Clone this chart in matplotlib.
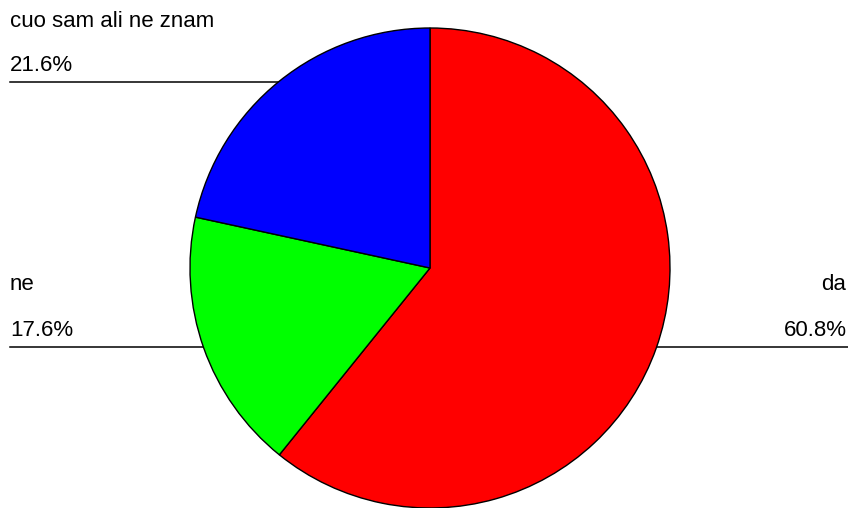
import numpy as np
import matplotlib.pyplot as plt

plt.rcParams['font.family'] = ['Liberation Sans', 'DejaVu Sans']

labels = ['da', 'ne', 'cuo sam ali ne znam']
values = [60.8, 17.6, 21.6]
colors = ['#ff0000', '#00ff00', '#0000ff']

W, H = 848, 508
fig = plt.figure(figsize=(W / 100, H / 100), dpi=100)
ax = fig.add_axes([0, 0, 1, 1])

cx, cy, r = 430, H - 268, 240
ax.pie(values, colors=colors, startangle=90, counterclock=False,
       center=(cx, cy), radius=r, frame=True,
       wedgeprops=dict(edgecolor='black', linewidth=1.0, zorder=3))
ax.set_xlim(0, W)
ax.set_ylim(0, H)
ax.axis('off')

fs = 16
# top left label
ax.text(10, H - 27, labels[2], fontsize=fs, ha='left', va='baseline')
ax.text(10, H - 71, f'{values[2]}%', fontsize=fs, ha='left', va='baseline')
ax.plot([10, cx], [H - 82, H - 82], color='black', lw=1.1, zorder=1)
# left label
ax.text(10, H - 290, labels[1], fontsize=fs, ha='left', va='baseline')
ax.text(10, H - 336, f'{values[1]}%', fontsize=fs, ha='left', va='baseline')
ax.plot([10, cx], [H - 347, H - 347], color='black', lw=1.1, zorder=1)
# right label
ax.text(846, H - 290, labels[0], fontsize=fs, ha='right', va='baseline')
ax.text(847, H - 336, f'{values[0]}%', fontsize=fs, ha='right', va='baseline')
ax.plot([cx, W], [H - 347, H - 347], color='black', lw=1.1, zorder=1)

fig.savefig('out.png', dpi=100)
